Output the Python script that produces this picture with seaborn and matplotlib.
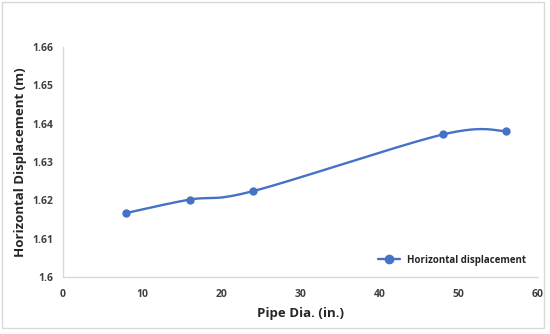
import matplotlib.pyplot as plt
from matplotlib.lines import Line2D
from matplotlib.patches import Rectangle
import seaborn as sns
import pandas as pd
import numpy as np

pipe_dia = [8, 16, 24, 48, 56]
h_disp = [1.6167, 1.6202, 1.6224, 1.6372, 1.6381]
x_ticks = [0, 10, 20, 30, 40, 50, 60]
x_labels = ["0", "10", "20", "30", "40", "50", "60"]
y_ticks = [1.6, 1.61, 1.62, 1.63, 1.64, 1.65, 1.66]
y_labels = ["1.6", "1.61", "1.62", "1.63", "1.64", "1.65", "1.66"]

BLUE = "#4472C4"


def smooth_curve(xs, ys, n=40):
    """Excel-style smoothed line (Catmull-Rom Bezier through the points)."""
    xs = np.asarray(xs, float)
    ys = np.asarray(ys, float)
    px = np.concatenate([[xs[0]], xs, [xs[-1]]])
    py = np.concatenate([[ys[0]], ys, [ys[-1]]])
    out_x, out_y = [], []
    t = np.linspace(0, 1, n)
    for i in range(1, len(px) - 2):
        p0 = np.array([px[i], py[i]])
        p3 = np.array([px[i + 1], py[i + 1]])
        c1 = p0 + (np.array([px[i + 1], py[i + 1]]) - np.array([px[i - 1], py[i - 1]])) / 6
        c2 = p3 - (np.array([px[i + 2], py[i + 2]]) - np.array([px[i], py[i]])) / 6
        b = ((1 - t) ** 3)[:, None] * p0 + (3 * (1 - t) ** 2 * t)[:, None] * c1 \
            + (3 * (1 - t) * t ** 2)[:, None] * c2 + (t ** 3)[:, None] * p3
        out_x.extend(b[:, 0])
        out_y.extend(b[:, 1])
    return out_x, out_y


sns.set_theme(style="white")
plt.rcParams['font.family'] = ['Open Sans', 'DejaVu Sans']

fig = plt.figure(figsize=(5.5, 3.34), dpi=100)
ax = fig.add_axes([0.1145, 0.1707, 0.8635, 0.6883])

cx, cy = smooth_curve(pipe_dia, h_disp)
curve = pd.DataFrame({"x": cx, "y": cy})
pts = pd.DataFrame({"x": pipe_dia, "y": h_disp})

sns.lineplot(data=curve, x="x", y="y", ax=ax, color=BLUE, linewidth=1.7, sort=False)
sns.scatterplot(data=pts, x="x", y="y", ax=ax, color=BLUE, s=36, edgecolor=BLUE, linewidth=0, zorder=3)

ax.set_xlim(0, 60)
ax.set_ylim(1.6, 1.66)
ax.set_xticks(x_ticks, x_labels, fontweight='bold', fontsize=7.5, color='#404040')
ax.set_yticks(y_ticks, y_labels, fontweight='bold', fontsize=7.5, color='#404040')
ax.tick_params(axis='x', length=0, pad=9)
ax.tick_params(axis='y', length=0, pad=7)

for s in ['top', 'right']:
    ax.spines[s].set_visible(False)
for s in ['left', 'bottom']:
    ax.spines[s].set_color('#d9d9d9')
    ax.spines[s].set_linewidth(1)

ax.set_xlabel('Pipe Dia. (in.)', fontsize=9.5, fontweight='bold', color='#262626', labelpad=5)
ax.set_ylabel('Horizontal Displacement (m)', fontsize=9.5, fontweight='bold', color='#262626', labelpad=4)

handle = Line2D([], [], color=BLUE, linewidth=1.7, marker='o', markersize=6)
ax.legend([handle], ['Horizontal displacement'], loc='lower right', frameon=False,
          prop={'size': 7, 'weight': 'bold'}, handlelength=2.2, borderaxespad=0.3,
          bbox_to_anchor=(0.99, 0.02))

fig.patches.append(Rectangle((0.004, 0.018), 0.985, 0.975, transform=fig.transFigure,
                             fill=False, edgecolor='#d9d9d9', linewidth=1))

fig.savefig('out.png', dpi=100)
